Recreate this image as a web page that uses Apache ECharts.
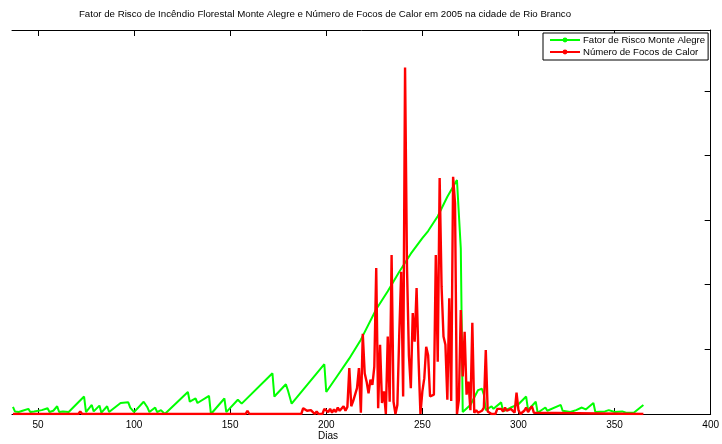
<!DOCTYPE html>
<html>
<head>
<meta charset="utf-8">
<script src="https://cdn.jsdelivr.net/npm/echarts@6/dist/echarts.min.js"></script>
<style>html,body{margin:0;padding:0;background:#fff}#c{width:722px;height:444px}</style>
</head>
<body>
<div id="c"></div>
<script>
const titleText = 'Fator de Risco de Incêndio Florestal Monte Alegre e Número de Focos de Calor em 2005 na cidade de Rio Branco';
const xAxisName = 'Dias';
const seriesNames = ['Fator de Risco Monte Alegre', 'Número de Focos de Calor'];
const xTicks = [50, 100, 150, 200, 250, 300, 350, 400];
const yTicks = [1, 2, 3, 4, 5];

// [dia, valor]
const fatorRisco = [
  [37,0.11],[38,0.04],[40,0.03],[42,0.05],[43,0.03],[45,0.08],[46,0.03],[48,0.04],[49,0.03],
  [52,0.06],[53,0.03],[55,0.09],[56,0.03],[58,0.05],[60,0.12],[61,0.03],[63,0.04],[66,0.03],
  [74,0.27],[75,0.03],[78,0.14],[79,0.04],[82,0.13],[83,0.02],[86,0.12],[87,0.03],[90,0.1],
  [93,0.17],[94,0.14],[97,0.18],[98,0.1],[100,0.03],[105,0.19],[107,0.1],[108,0.03],[111,0.1],
  [112,0.03],[114,0.06],[116,0.0],[128,0.34],[129,0.19],[132,0.24],[133,0.17],[139,0.28],[140,0.0],
  [147,0.24],[148,0.03],[154,0.22],[156,0.16],[172,0.63],[173,0.27],[179,0.46],[180,0.37],[182,0.16],
  [199,0.77],[200,0.34],[206,0.6],[212,0.86],[218,1.15],[226,1.62],[232,1.9],[238,2.2],[244,2.48],
  [250,2.72],[253,2.83],[258,3.06],[263,3.36],[268,3.62],[269,3.6],[270,2.56],[271,0.03],[275,0.14],
  [279,0.37],[281,0.39],[282,0.3],[283,0.06],[286,0.12],[287,0.08],[291,0.18],[292,0.04],[296,0.1],
  [300,0.15],[304,0.27],[305,0.06],[309,0.19],[310,0.02],[314,0.1],[315,0.05],[322,0.14],[323,0.05],
  [327,0.03],[330,0.06],[333,0.1],[335,0.07],[339,0.17],[340,0.03],[345,0.04],[347,0.06],[350,0.03],
  [354,0.04],[356,0.02],[360,0.02],[365,0.14]
];

const focosCalor = [
  [37,0],[71,0],[72,0.04],[73,0],[158,0],[159,0.05],[160,0],[166,0],[167,0.03],[168,0],[177,0],[178,0.03],[179,0],
  [187,0],[188,0.09],[189,0.12],[190,0.05],[191,0.08],[192,0.06],[193,0.03],[194,0.0],[195,0.04],[196,0.0],
  [197,0.03],[198,0.0],[199,0.08],[200,0.05],[201,0.03],[202,0.08],[203,0.02],[204,0.07],[205,0.03],
  [206,0.1],[207,0.05],[208,0.08],[209,0.12],[210,0.05],[211,0.11],[212,0.71],[213,0.12],[214,0.2],
  [215,0.18],[216,0.4],[217,0.71],[218,0.02],[219,1.24],[220,0.63],[221,0.5],[222,0.32],[223,0.53],
  [224,0.45],[225,0.73],[226,2.26],[227,0.09],[228,1.07],[229,0.17],[230,0.35],[231,0.0],[232,1.2],
  [233,0.19],[234,2.46],[235,0.19],[236,0.0],[237,0.14],[238,1.25],[239,2.2],[240,0.27],[241,5.36],
  [242,2.28],[243,0.91],[244,0.4],[245,1.56],[246,1.12],[247,1.95],[248,0.86],[249,0.0],[250,0.35],
  [251,0.55],[252,1.04],[253,0.91],[254,0.27],[255,0.25],[256,0.3],[257,2.46],[258,0.81],[259,3.65],
  [260,1.97],[261,1.2],[262,1.07],[263,0.22],[264,1.79],[265,0.2],[266,3.67],[267,3.26],[268,0.0],
  [269,0.22],[270,1.61],[271,0.58],[272,1.27],[273,0.3],[274,0.5],[275,0.06],[276,1.41],[277,0.02],
  [278,0.06],[279,0.02],[280,0.0],[281,0.05],[282,0.1],[283,0.99],[284,0.04],[285,0.07],[286,0],
  [288,0],[289,0.08],[290,0.05],[291,0.08],[292,0.04],[293,0.1],[294,0.05],[295,0.05],[296,0.08],
  [297,0.1],[298,0.02],[299,0.33],[300,0.06],[301,0],[302,0],[303,0.05],[304,0.1],[305,0.03],
  [306,0.08],[307,0.12],[308,0.02],[309,0],[365,0]
];

const chart = echarts.init(document.getElementById('c'), null, {renderer: 'canvas'});
const font = 'Liberation Sans, Arial, Helvetica, sans-serif';
const axisCommon = {
  axisLine: {show: true, lineStyle: {color: '#000', width: 1}},
  splitLine: {show: false}
};
chart.setOption({
  animation: false,
  backgroundColor: '#fff',
  grid: {left: 12, right: 8, top: 30, bottom: 30, containLabel: false},
  graphic: [
    {type: 'text', x: 325, y: 14, style: {text: titleText, font: '9.7px ' + font, fill: '#000', textAlign: 'center', textVerticalAlign: 'middle'}},
    {type: 'text', x: 328, y: 436, style: {text: xAxisName, font: '10px ' + font, fill: '#000', textAlign: 'center', textVerticalAlign: 'middle'}}
  ],
  legend: {
    orient: 'vertical', left: 543, top: 33,
    backgroundColor: '#fff', borderColor: '#000', borderWidth: 1, borderRadius: 0,
    padding: [2, 3, 3, 6], itemWidth: 30, itemHeight: 6, itemGap: 2,
    textStyle: {fontFamily: font, fontSize: 9.6, color: '#000', padding: [0, 0, 0, -2]},
    data: seriesNames
  },
  xAxis: [
    Object.assign({}, axisCommon, {
      type: 'value', position: 'bottom', min: 36.5, max: 400,
      axisTick: {show: true, inside: true, length: 6, lineStyle: {color: '#000'}, customValues: xTicks},
      axisLabel: {show: true, color: '#000', fontFamily: font, fontSize: 10, margin: 6, customValues: xTicks}
    }),
    Object.assign({}, axisCommon, {
      type: 'value', position: 'top', min: 36.5, max: 400,
      axisTick: {show: true, inside: true, length: 6, lineStyle: {color: '#000'}, customValues: xTicks},
      axisLabel: {show: false}
    })
  ],
  yAxis: [
    Object.assign({}, axisCommon, {
      type: 'value', position: 'right', min: 0, max: 5.94,
      axisTick: {show: true, inside: true, length: 6, lineStyle: {color: '#000'}, customValues: yTicks},
      axisLabel: {show: false}
    })
  ],
  series: [
    {
      name: seriesNames[0], type: 'line', data: fatorRisco, xAxisIndex: 0, yAxisIndex: 0,
      showSymbol: false, symbol: 'circle', symbolSize: 3,
      lineStyle: {color: '#00ff00', width: 2}, itemStyle: {color: '#00ff00'}, z: 2
    },
    {
      name: seriesNames[1], type: 'line', data: focosCalor, xAxisIndex: 0, yAxisIndex: 0,
      showSymbol: false, symbol: 'circle', symbolSize: 3,
      lineStyle: {color: '#ff0000', width: 2.4}, itemStyle: {color: '#ff0000'}, z: 3
    }
  ]
});
</script>
</body>
</html>
